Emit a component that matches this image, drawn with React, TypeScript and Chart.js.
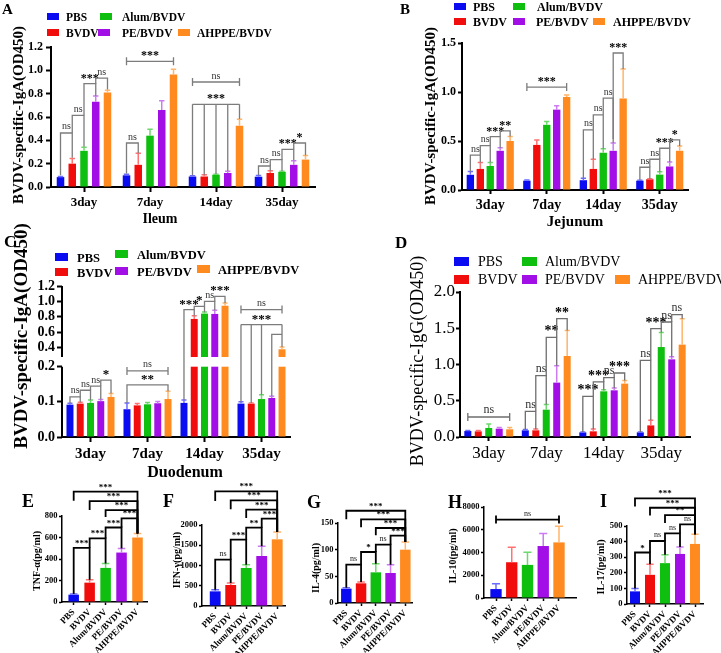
import React, { useEffect, useRef } from 'react';
import { Chart, registerables, LinearScale } from 'chart.js';

Chart.register(...registerables);

const SERIF = '"Liberation Serif", "Times New Roman", Times, serif';

// ---- groups, days, colours ----
const GROUPS = ['PBS', 'BVDV', 'Alum/BVDV', 'PE/BVDV', 'AHPPE/BVDV'];
const DAYS = ['3day', '7day', '14day', '35day'];
const COLORS = ['#0b0bf2', '#f20d0d', '#0fbf0f', '#a10ee6', '#ff8a1f'];
const ERR_COLORS = ['#6b6bff', '#ff7373', '#6ed86e', '#cc7cf2', '#ffb56b'];

// ---- Ileum IgA (rows = groups, columns = days) ----
const ILEUM = [
  [0.085, 0.10, 0.09, 0.088],
  [0.20, 0.19, 0.09, 0.12],
  [0.31, 0.44, 0.105, 0.13],
  [0.73, 0.66, 0.12, 0.19],
  [0.81, 0.965, 0.525, 0.235],
];
const ILEUM_ERR = [
  [0.006, 0.01, 0.006, 0.01],
  [0.045, 0.10, 0.015, 0.02],
  [0.03, 0.055, 0.004, 0.005],
  [0.05, 0.08, 0.015, 0.035],
  [0.02, 0.045, 0.055, 0.035],
];

// ---- Jejunum IgA ----
const JEJUNUM = [
  [0.155, 0.095, 0.10, 0.095],
  [0.215, 0.46, 0.215, 0.11],
  [0.245, 0.665, 0.38, 0.157],
  [0.40, 0.82, 0.40, 0.24],
  [0.50, 0.95, 0.934, 0.40],
];
const JEJUNUM_ERR = [
  [0.035, 0.008, 0.02, 0.005],
  [0.065, 0.05, 0.10, 0.005],
  [0.035, 0.035, 0.04, 0.03],
  [0.03, 0.04, 0.08, 0.045],
  [0.045, 0.02, 0.30, 0.05],
];

// ---- Duodenum IgA ----
const DUODENUM = [
  [0.092, 0.079, 0.097, 0.095],
  [0.095, 0.090, 0.773, 0.095],
  [0.097, 0.093, 0.842, 0.108],
  [0.102, 0.096, 0.838, 0.111],
  [0.114, 0.108, 0.945, 0.38],
];
const DUODENUM_ERR = [
  [0.004, 0.018, 0.008, 0.005],
  [0.004, 0.005, 0.043, 0.002],
  [0.008, 0.005, 0.021, 0.012],
  [0.005, 0.005, 0.047, 0.005],
  [0.01, 0.022, 0.035, 0.03],
];

// ---- serum IgG ----
const IGG = [
  [0.083, 0.092, 0.064, 0.064],
  [0.078, 0.092, 0.078, 0.16],
  [0.124, 0.377, 0.63, 1.241],
  [0.115, 0.75, 0.644, 1.071],
  [0.106, 1.117, 0.736, 1.274],
];
const IGG_ERR = [
  [0.005, 0.013, 0.005, 0.005],
  [0.012, 0.018, 0.032, 0.07],
  [0.056, 0.073, 0.023, 0.2],
  [0.015, 0.234, 0.032, 0.037],
  [0.024, 0.353, 0.044, 0.358],
];

// ---- cytokines (one value per group) ----
const TNF = [68, 180, 317, 460, 600];
const TNF_ERR = [7, 28, 41, 38, 38];
const IFN = [362, 518, 938, 1234, 1646];
const IFN_ERR = [41, 50, 82, 239, 181];
const IL4 = [26.9, 36.9, 57.5, 56.3, 100];
const IL4_ERR = [1.9, 2.5, 16.3, 15.6, 14.4];
const IL10 = [786, 3143, 2910, 4569, 4889];
const IL10_ERR = [465, 1309, 1106, 1106, 1426];
const IL17 = [81, 187, 262, 321, 385];
const IL17_ERR = [19, 68, 53, 45, 62];

// ---- tick values ----
const TICKS_ILEUM = [0, 0.2, 0.4, 0.6, 0.8, 1.0, 1.2];
const TICKS_JEJUNUM = [0, 0.5, 1.0, 1.5];
const TICKS_DUODENUM = [0, 0.1, 0.2, 0.4, 0.6, 0.8, 1.0, 1.2];
const TICKS_IGG = [0, 0.5, 1.0, 1.5, 2.0];
const TICKS_TNF = [0, 200, 400, 600, 800];
const TICKS_IFN = [0, 500, 1000, 1500, 2000];
const TICKS_IL4 = [0, 50, 100, 150];
const TICKS_IL10 = [0, 2000, 4000, 6000, 8000];
const TICKS_IL17 = [0, 100, 200, 300, 400, 500];

// ---- significance brackets: c = day, a/b = groups, y = level, ya/yb = leg ends ----
type Br = { c?: number; a: number; b: number; y: number; ya?: number | null; yb?: number | null; t: string; span?: boolean };
type Multi = { c: number; bars: number[]; y: number; lows: number[]; t: string };

const ILEUM_BR: Br[] = [
  { c: 0, a: 0, b: 1, y: 0.463, ya: 0.1, yb: 0.25, t: 'ns' },
  { c: 0, a: 1, b: 2, y: 0.614, ya: 0.463, yb: 0.345, t: 'ns' },
  { c: 0, a: 2, b: 3, y: 0.886, ya: 0.614, yb: 0.78, t: '***' },
  { c: 0, a: 3, b: 4, y: 0.934, ya: 0.886, yb: 0.835, t: 'ns' },
  { c: 1, a: 0, b: 1, y: 0.377, ya: 0.115, yb: 0.29, t: 'ns' },
  { c: 1, a: 0, b: 4, y: 1.077, t: '***', span: true },
  { c: 2, a: 0, b: 4, y: 0.9, t: 'ns', span: true },
  { c: 3, a: 0, b: 1, y: 0.18, ya: 0.1, yb: 0.14, t: 'ns' },
  { c: 3, a: 1, b: 2, y: 0.234, ya: 0.18, yb: 0.137, t: 'ns' },
  { c: 3, a: 2, b: 3, y: 0.323, ya: 0.234, yb: 0.228, t: '***' },
  { c: 3, a: 3, b: 4, y: 0.377, ya: 0.323, yb: 0.272, t: '*' },
];
const ILEUM_MULTI: Multi[] = [
  { c: 2, bars: [0, 1, 2, 3, 4], y: 0.709, lows: [0.1, 0.105, 0.112, 0.137, 0.582], t: '***' },
];

const JEJUNUM_BR: Br[] = [
  { c: 0, a: 0, b: 1, y: 0.355, ya: 0.19, yb: 0.28, t: 'ns' },
  { c: 0, a: 1, b: 2, y: 0.453, ya: 0.355, yb: 0.28, t: 'ns' },
  { c: 0, a: 2, b: 3, y: 0.545, ya: 0.453, yb: 0.43, t: '***' },
  { c: 0, a: 3, b: 4, y: 0.603, ya: 0.545, yb: 0.545, t: '**' },
  { c: 1, a: 0, b: 4, y: 1.05, t: '***', span: true },
  { c: 2, a: 0, b: 1, y: 0.614, ya: 0.12, yb: 0.315, t: 'ns' },
  { c: 2, a: 1, b: 2, y: 0.767, ya: 0.614, yb: 0.42, t: 'ns' },
  { c: 2, a: 2, b: 3, y: 0.938, ya: 0.767, yb: 0.48, t: 'ns' },
  { c: 2, a: 3, b: 4, y: 1.398, ya: 0.52, yb: 1.234, t: '***' },
  { c: 3, a: 0, b: 1, y: 0.232, ya: 0.1, yb: 0.115, t: 'ns' },
  { c: 3, a: 1, b: 2, y: 0.314, ya: 0.232, yb: 0.187, t: 'ns' },
  { c: 3, a: 2, b: 3, y: 0.426, ya: 0.314, yb: 0.285, t: '***' },
  { c: 3, a: 3, b: 4, y: 0.511, ya: 0.426, yb: 0.45, t: '*' },
];

const DUODENUM_BR: Br[] = [
  { c: 0, a: 0, b: 1, y: 0.114, ya: 0.096, yb: 0.099, t: 'ns' },
  { c: 0, a: 1, b: 2, y: 0.133, ya: 0.114, yb: 0.105, t: 'ns' },
  { c: 0, a: 2, b: 3, y: 0.145, ya: 0.133, yb: 0.107, t: 'ns' },
  { c: 0, a: 3, b: 4, y: 0.162, ya: 0.145, yb: 0.124, t: '*' },
  { c: 1, a: 0, b: 4, y: 0.188, t: 'ns', span: true },
  { c: 1, a: 0, b: 4, y: 0.148, ya: 0.097, yb: 0.13, t: '**' },
  { c: 2, a: 0, b: 1, y: 0.894, ya: 0.105, yb: 0.816, t: '***' },
  { c: 2, a: 1, b: 2, y: 0.936, ya: 0.894, yb: 0.863, t: '*' },
  { c: 2, a: 2, b: 3, y: 1.0, ya: 0.936, yb: 0.885, t: 'ns' },
  { c: 2, a: 3, b: 4, y: 1.065, ya: 1.0, yb: 0.98, t: '***' },
  { c: 3, a: 0, b: 4, y: 0.894, t: 'ns', span: true },
  { c: 3, a: 3, b: 4, y: 0.572, ya: 0.116, yb: null, t: '' },
];
const DUODENUM_MULTI: Multi[] = [
  { c: 3, bars: [0, 1, 2, 4], y: 0.70, lows: [0.1, 0.097, 0.12, 0.41], t: '***' },
];

const IGG_BR: Br[] = [
  { c: 0, a: 0, b: 4, y: 0.276, t: 'ns', span: true },
  { c: 1, a: 0, b: 1, y: 0.354, ya: 0.105, yb: 0.11, t: 'ns' },
  { c: 1, a: 1, b: 2, y: 0.846, ya: 0.354, yb: 0.45, t: 'ns' },
  { c: 1, a: 2, b: 3, y: 1.375, ya: 0.846, yb: 0.984, t: '**' },
  { c: 1, a: 3, b: 4, y: 1.632, ya: 1.375, yb: 1.47, t: '**' },
  { c: 2, a: 0, b: 1, y: 0.561, ya: 0.07, yb: 0.11, t: '***' },
  { c: 2, a: 1, b: 2, y: 0.759, ya: 0.561, yb: 0.653, t: '***' },
  { c: 2, a: 2, b: 3, y: 0.818, ya: 0.759, yb: 0.676, t: 'ns' },
  { c: 2, a: 3, b: 4, y: 0.883, ya: 0.818, yb: 0.78, t: '***' },
  { c: 3, a: 0, b: 1, y: 1.057, ya: 0.07, yb: 0.23, t: 'ns' },
  { c: 3, a: 1, b: 2, y: 1.494, ya: 1.057, yb: 1.44, t: '***' },
  { c: 3, a: 2, b: 3, y: 1.586, ya: 1.494, yb: 1.108, t: 'ns' },
  { c: 3, a: 3, b: 4, y: 1.687, ya: 1.586, yb: 1.632, t: 'ns' },
];

const TNF_BR: Br[] = [
  { a: 0, b: 1, y: 504, ya: 75, yb: 208, t: '***' },
  { a: 1, b: 2, y: 591, ya: 504, yb: 358, t: '***' },
  { a: 2, b: 3, y: 693, ya: 591, yb: 498, t: '***' },
  { a: 3, b: 4, y: 777, ya: 693, yb: 638, t: '***' },
  { a: 2, b: 4, y: 855, ya: 790, yb: 638, t: '***' },
  { a: 1, b: 4, y: 939, ya: 855, yb: 638, t: '***' },
  { a: 0, b: 4, y: 1026, ya: 942, yb: 638, t: '***' },
];
const IFN_BR: Br[] = [
  { a: 0, b: 1, y: 1144, ya: 403, yb: 568, t: 'ns' },
  { a: 1, b: 2, y: 1638, ya: 1144, yb: 1020, t: '***' },
  { a: 2, b: 3, y: 1934, ya: 1638, yb: 1473, t: '**' },
  { a: 3, b: 4, y: 2156, ya: 1934, yb: 1827, t: '***' },
  { a: 2, b: 4, y: 2378, ya: 2170, yb: 1827, t: '***' },
  { a: 1, b: 4, y: 2609, ya: 2390, yb: 1827, t: '***' },
  { a: 0, b: 4, y: 2831, ya: 2590, yb: 1827, t: '***' },
];
const IL4_BR: Br[] = [
  { a: 0, b: 1, y: 71.9, ya: 28.8, yb: 39.4, t: 'ns' },
  { a: 1, b: 2, y: 95.6, ya: 71.9, yb: 73.8, t: '*' },
  { a: 2, b: 3, y: 109.4, ya: 95.6, yb: 71.9, t: 'ns' },
  { a: 3, b: 4, y: 126.3, ya: 109.4, yb: 114.4, t: '***' },
  { a: 2, b: 4, y: 140.6, ya: 127, yb: 114.4, t: '***' },
  { a: 1, b: 4, y: 156.9, ya: 142, yb: 114.4, t: '***' },
  { a: 0, b: 4, y: 173, ya: 157, yb: 114.4, t: '***' },
];
const IL10_BR: Br[] = [
  { a: 0, b: 4, y: 6897, t: 'ns', span: true },
];
const IL17_BR: Br[] = [
  { a: 0, b: 1, y: 330, ya: 100, yb: 255, t: '*' },
  { a: 1, b: 2, y: 404, ya: 330, yb: 315, t: 'ns' },
  { a: 2, b: 3, y: 453, ya: 404, yb: 366, t: 'ns' },
  { a: 3, b: 4, y: 511, ya: 453, yb: 447, t: 'ns' },
  { a: 2, b: 4, y: 570, ya: 520, yb: 447, t: '**' },
  { a: 1, b: 4, y: 617, ya: 567, yb: 447, t: '***' },
  { a: 0, b: 4, y: 677, ya: 625, yb: 447, t: '***' },
];

// ---- broken value axis for the duodenum panel ----
const BREAK_LO = 0.2;
const BREAK_HI = 0.28;
const BREAK_F_LO = 0.4656; // share of axis height below the break
const BREAK_F_HI = 0.5298; // share of axis height where the upper part starts

class BrokenLinearScale extends LinearScale {
  static id = 'brokenLinear';
  static defaults = LinearScale.defaults;
  getPixelForValue(value: any) {
    if (value === null || value === undefined || isNaN(value)) return NaN;
    const min = this.min;
    const max = this.max;
    let f: number;
    if (value <= BREAK_LO) f = ((value - min) / (BREAK_LO - min)) * BREAK_F_LO;
    else if (value <= BREAK_HI) f = BREAK_F_LO + ((value - BREAK_LO) / (BREAK_HI - BREAK_LO)) * (BREAK_F_HI - BREAK_F_LO);
    else f = BREAK_F_HI + ((value - BREAK_HI) / (max - BREAK_HI)) * (1 - BREAK_F_HI);
    return this.bottom - f * (this.bottom - this.top);
  }
  getValueForPixel(pixel: number) {
    const f = (this.bottom - pixel) / (this.bottom - this.top);
    if (f <= BREAK_F_LO) return this.min + (f / BREAK_F_LO) * (BREAK_LO - this.min);
    if (f <= BREAK_F_HI) return BREAK_LO + ((f - BREAK_F_LO) / (BREAK_F_HI - BREAK_F_LO)) * (BREAK_HI - BREAK_LO);
    return BREAK_HI + ((f - BREAK_F_HI) / (1 - BREAK_F_HI)) * (this.max - BREAK_HI);
  }
}
Chart.register(BrokenLinearScale as any);

// ---- panel layout ----
type Legend = { size: number; bold: boolean; rw: number; rh: number; items: number[][] };
type Panel = {
  key: string;
  box: number[];
  area: number[];
  grouped?: number[][];
  groupedErr?: number[][];
  single?: number[];
  singleErr?: number[];
  xMin?: number;
  xMax?: number;
  broken?: boolean;
  yMax: number;
  yTicks: number[];
  dec: number;
  catPct: number;
  barPct: number;
  axisW: number;
  tickLen: number;
  yFont: [number, boolean];
  yPad: number;
  xFont: [number, boolean];
  xPad: number;
  letter: [string, number, number, number];
  legend?: Legend;
  yTitle: [string, number, number, number, boolean];
  xTitle?: [string, number, number, number];
  brackets: Br[];
  multi?: Multi[];
  br: { color: string; width: number; ast: number; ns: number; tick: number; nsColor: string };
};

const TOP_BR = { color: '#7c7c7c', width: 1.3, ast: 12, ns: 10, tick: 4, nsColor: '#333' };
const BOTTOM_BR = { color: '#000', width: 1.8, ast: 9, ns: 8, tick: 4, nsColor: '#222' };

const PANELS: Panel[] = [
  {
    key: 'A', box: [0, 0, 360, 232], area: [51, 47, 315, 187],
    grouped: ILEUM, groupedErr: ILEUM_ERR, yMax: 1.2, yTicks: TICKS_ILEUM, dec: 1,
    catPct: 0.89, barPct: 0.64, axisW: 2, tickLen: 5,
    yFont: [12, true], yPad: 3, xFont: [13, true], xPad: 3,
    letter: ['A', 2, 13.5, 15],
    legend: { size: 11.5, bold: true, rw: 12, rh: 7, items: [
      [0, 47, 13, 66, 20.5], [2, 100, 13, 122, 20.5],
      [1, 47, 29, 66, 36.5], [3, 98, 29, 122, 36.5], [4, 178, 29, 197, 36.5],
    ] },
    yTitle: ['BVDV-specific-IgA(OD450)', 19, 115, 15, true],
    xTitle: ['Ileum', 160, 223, 14],
    brackets: ILEUM_BR, multi: ILEUM_MULTI, br: TOP_BR,
  },
  {
    key: 'B', box: [360, 0, 361, 235], area: [462, 43, 688, 190],
    grouped: JEJUNUM, groupedErr: JEJUNUM_ERR, yMax: 1.5, yTicks: TICKS_JEJUNUM, dec: 1,
    catPct: 0.88, barPct: 0.74, axisW: 2, tickLen: 4,
    yFont: [12, true], yPad: 2, xFont: [14, true], xPad: 3,
    letter: ['B', 400, 13.5, 15],
    legend: { size: 12, bold: true, rw: 12, rh: 7, items: [
      [0, 454, 3, 473, 10.5], [2, 513, 3, 537, 10.5],
      [1, 454, 18, 473, 25.5], [3, 513, 18, 536, 25.5], [4, 593, 18, 613, 25.5],
    ] },
    yTitle: ['BVDV-specific-IgA(OD450)', 431, 116, 15, true],
    xTitle: ['Jejunum', 575, 226, 15],
    brackets: JEJUNUM_BR, br: TOP_BR,
  },
  {
    key: 'C', box: [0, 210, 360, 270], area: [62, 286, 290, 437],
    grouped: DUODENUM, groupedErr: DUODENUM_ERR, broken: true, yMax: 1.2, yTicks: TICKS_DUODENUM, dec: 1,
    catPct: 0.9, barPct: 0.68, axisW: 2, tickLen: 5,
    yFont: [14, true], yPad: 2, xFont: [15, true], xPad: 3,
    letter: ['C', 4, 247, 17],
    legend: { size: 12.5, bold: true, rw: 13, rh: 8, items: [
      [0, 55, 253, 77, 262], [2, 115, 250, 137, 258.5],
      [1, 55, 268, 77, 277], [3, 115, 267, 137, 275.5], [4, 197, 265, 218, 273.5],
    ] },
    yTitle: ['BVDV-specific-IgA(OD450)', 22.5, 336, 19, true],
    xTitle: ['Duodenum', 185, 477, 16],
    brackets: DUODENUM_BR, multi: DUODENUM_MULTI, br: { ...TOP_BR, ast: 13 },
  },
  {
    key: 'D', box: [360, 235, 361, 245], area: [460, 292, 690, 437],
    grouped: IGG, groupedErr: IGG_ERR, yMax: 2.0, yTicks: TICKS_IGG, dec: 1,
    catPct: 0.91, barPct: 0.67, axisW: 2, tickLen: 4,
    yFont: [17, false], yPad: 1, xFont: [17, false], xPad: 2,
    letter: ['D', 395, 248, 17],
    legend: { size: 14, bold: false, rw: 15, rh: 9, items: [
      [0, 454, 257, 478, 266], [2, 522, 257, 545, 266],
      [1, 454, 275, 478, 284], [3, 522, 275, 545, 284], [4, 615, 275, 638, 284],
    ] },
    yTitle: ['BVDV-specific-IgG(OD450)', 418, 361, 18, false],
    brackets: IGG_BR, br: { ...TOP_BR, color: '#6e6e6e', ast: 14, ns: 12 },
  },
  {
    key: 'E', box: [0, 480, 160, 173], area: [62, 516, 147, 602],
    single: TNF, singleErr: TNF_ERR, xMin: -0.733, xMax: 4.596, yMax: 800, yTicks: TICKS_TNF, dec: 0,
    catPct: 1, barPct: 0.66, axisW: 1.5, tickLen: 3,
    yFont: [8.5, true], yPad: 1.5, xFont: [9, true], xPad: 2,
    letter: ['E', 22, 507, 18],
    yTitle: ['TNF-α(pg/ml)', 37.5, 561, 10, true],
    brackets: TNF_BR, br: BOTTOM_BR,
  },
  {
    key: 'F', box: [160, 480, 140, 173], area: [202, 525, 285, 606],
    single: IFN, singleErr: IFN_ERR, xMin: -0.852, xMax: 4.503, yMax: 2000, yTicks: TICKS_IFN, dec: 0,
    catPct: 1, barPct: 0.7, axisW: 1.5, tickLen: 3,
    yFont: [8.5, true], yPad: 1.5, xFont: [9, true], xPad: 2,
    letter: ['F', 163, 507, 18],
    yTitle: ['IFN-γ(pg/ml)', 177, 560, 10, true],
    brackets: IFN_BR, br: BOTTOM_BR,
  },
  {
    key: 'G', box: [300, 480, 145, 173], area: [338, 523, 412, 603],
    single: IL4, singleErr: IL4_ERR, xMin: -0.563, xMax: 4.454, yMax: 150, yTicks: TICKS_IL4, dec: 0,
    catPct: 1, barPct: 0.71, axisW: 1.5, tickLen: 3,
    yFont: [8.5, true], yPad: 1.5, xFont: [9, true], xPad: 2,
    letter: ['G', 307, 508, 18],
    yTitle: ['IL-4(pg/ml)', 316.5, 568, 10, true],
    brackets: IL4_BR, br: BOTTOM_BR,
  },
  {
    key: 'H', box: [445, 480, 140, 173], area: [484, 507, 576, 598],
    single: IL10, singleErr: IL10_ERR, xMin: -0.762, xMax: 5.08, yMax: 8000, yTicks: TICKS_IL10, dec: 0,
    catPct: 1, barPct: 0.72, axisW: 1.5, tickLen: 3,
    yFont: [8.5, true], yPad: 1.5, xFont: [9, true], xPad: 2,
    letter: ['H', 448, 508, 18],
    yTitle: ['IL-10(pg/ml)', 453.5, 556, 10, true],
    brackets: IL10_BR, br: BOTTOM_BR,
  },
  {
    key: 'I', box: [585, 480, 136, 173], area: [627, 526, 703, 604],
    single: IL17, singleErr: IL17_ERR, xMin: -0.533, xMax: 4.533, yMax: 500, yTicks: TICKS_IL17, dec: 0,
    catPct: 1, barPct: 0.67, axisW: 1.5, tickLen: 3,
    yFont: [8.5, true], yPad: 1.5, xFont: [9, true], xPad: 2,
    letter: ['I', 600, 507, 18],
    yTitle: ['IL-17(pg/ml)', 601.5, 567, 10, true],
    brackets: IL17_BR, br: BOTTOM_BR,
  },
];

// ---- drawing helpers ----
const font = (size: number, bold: boolean) => `${bold ? 'bold ' : ''}${size}px ${SERIF}`;

function put(ctx: CanvasRenderingContext2D, s: string, x: number, y: number, f: string,
  align: CanvasTextAlign = 'left', color = '#000', rot = 0, base: CanvasTextBaseline = 'alphabetic') {
  ctx.save();
  ctx.font = f;
  ctx.fillStyle = color;
  ctx.textAlign = align;
  ctx.textBaseline = base;
  ctx.translate(x, y);
  if (rot) ctx.rotate(rot);
  ctx.fillText(s, 0, 0);
  ctx.restore();
}

function barX(chart: any, p: Panel, c: number, a: number): number {
  return p.grouped ? chart.getDatasetMeta(a).data[c].x : chart.getDatasetMeta(0).data[a].x;
}

function overlay(p: Panel) {
  const [bx, by] = p.box;
  return {
    id: 'overlay' + p.key,
    afterDatasetsDraw(chart: any) {
      const ctx: CanvasRenderingContext2D = chart.ctx;
      const ys = chart.scales.y;
      const area = chart.chartArea;
      if (p.broken) {
        const y1 = ys.getPixelForValue(BREAK_HI);
        const y2 = ys.getPixelForValue(BREAK_LO);
        ctx.fillStyle = '#fff';
        ctx.fillRect(area.left + 1, y1, area.right - area.left, y2 - y1);
      }
      // upward error bars
      ctx.save();
      ctx.lineWidth = 1.5;
      chart.data.datasets.forEach((_: any, i: number) => {
        const meta = chart.getDatasetMeta(i);
        meta.data.forEach((el: any, j: number) => {
          const v = p.grouped ? p.grouped[i][j] : p.single![j];
          const e = p.grouped ? p.groupedErr![i][j] : p.singleErr![j];
          const col = p.grouped ? ERR_COLORS[i] : ERR_COLORS[j];
          const yTop = ys.getPixelForValue(v);
          const yE = ys.getPixelForValue(v + e);
          const half = el.width * 0.36;
          ctx.strokeStyle = col;
          ctx.beginPath();
          ctx.moveTo(el.x, yTop);
          ctx.lineTo(el.x, yE);
          ctx.moveTo(el.x - half, yE);
          ctx.lineTo(el.x + half, yE);
          ctx.stroke();
        });
      });
      ctx.restore();
    },
    afterDraw(chart: any) {
      const ctx: CanvasRenderingContext2D = chart.ctx;
      const ys = chart.scales.y;
      const area = chart.chartArea;
      const py = (v: number) => ys.getPixelForValue(v);

      // split value axis
      if (p.broken) {
        ctx.save();
        ctx.strokeStyle = '#000';
        ctx.lineWidth = p.axisW;
        ctx.beginPath();
        ctx.moveTo(area.left, area.bottom + 1);
        ctx.lineTo(area.left, py(BREAK_LO));
        ctx.moveTo(area.left, py(BREAK_HI));
        ctx.lineTo(area.left, area.top);
        ctx.stroke();
        ctx.restore();
      }

      // significance brackets
      const lab = (t: string, x: number, y: number) => {
        if (!t) return;
        if (t.includes('*')) put(ctx, t, x, y - 2, font(p.br.ast, true), 'center', '#000');
        else put(ctx, t, x, y - 3.5, font(p.br.ns, false), 'center', p.br.nsColor);
      };
      ctx.save();
      ctx.strokeStyle = p.br.color;
      ctx.lineWidth = p.br.width;
      for (const b of p.brackets) {
        const c = b.c ?? 0;
        const xa = barX(chart, p, c, b.a);
        const xb = barX(chart, p, c, b.b);
        const yy = py(b.y);
        ctx.beginPath();
        if (b.span) {
          const tk = p.br.tick;
          ctx.moveTo(xa, yy - tk); ctx.lineTo(xa, yy + tk);
          ctx.moveTo(xa, yy); ctx.lineTo(xb, yy);
          ctx.moveTo(xb, yy - tk); ctx.lineTo(xb, yy + tk);
        } else {
          if (b.ya != null) { ctx.moveTo(xa, py(b.ya)); ctx.lineTo(xa, yy); } else ctx.moveTo(xa, yy);
          ctx.lineTo(xb, yy);
          if (b.yb != null) ctx.lineTo(xb, py(b.yb));
        }
        ctx.stroke();
        lab(b.t, (xa + xb) / 2, yy);
      }
      for (const m of p.multi ?? []) {
        const xs = m.bars.map((a) => barX(chart, p, m.c, a));
        const yy = py(m.y);
        ctx.beginPath();
        ctx.moveTo(Math.min(...xs), yy);
        ctx.lineTo(Math.max(...xs), yy);
        xs.forEach((x, k) => { ctx.moveTo(x, yy); ctx.lineTo(x, py(m.lows[k])); });
        ctx.stroke();
        lab(m.t, (Math.min(...xs) + Math.max(...xs)) / 2, yy);
      }
      ctx.restore();

      // legend
      if (p.legend) {
        const L = p.legend;
        for (const [g, rx, ry, tx, ty] of L.items) {
          ctx.fillStyle = COLORS[g];
          ctx.fillRect(rx - bx, ry - by, L.rw, L.rh);
          put(ctx, GROUPS[g], tx - bx, ty - by, font(L.size, L.bold));
        }
      }

      // panel letter and titles
      const [lt, lx, ly, ls] = p.letter;
      put(ctx, lt, lx - bx, ly - by, font(ls, true));
      const [yt, yx, yyc, ysz, yb] = p.yTitle;
      put(ctx, yt, yx - bx, yyc - by, font(ysz, yb), 'center', '#000', -Math.PI / 2, 'middle');
      if (p.xTitle) {
        const [xt, xx, xy, xs] = p.xTitle;
        put(ctx, xt, xx - bx, xy - by, font(xs, true), 'center');
      }
    },
  };
}

function buildConfig(p: Panel): any {
  const [bx, by, bw, bh] = p.box;
  const [l, t, r, b] = p.area;
  const grid = {
    display: true, drawOnChartArea: false, drawTicks: true, tickLength: p.tickLen,
    offset: false, tickColor: '#000', tickWidth: p.axisW, color: '#000',
  };
  const border = { display: true, color: '#000', width: p.axisW };
  const xFont = { family: SERIF, size: p.xFont[0], weight: p.xFont[1] ? 'bold' : 'normal' };
  const yFont = { family: SERIF, size: p.yFont[0], weight: p.yFont[1] ? 'bold' : 'normal' };
  const fitX = (s: any) => {
    s.height = by + bh - b;
    s.paddingLeft = 0; s.paddingRight = 0; s.paddingTop = 0; s.paddingBottom = 0;
  };

  const datasets = p.grouped
    ? GROUPS.map((g, i) => ({
        label: g, data: p.grouped![i], backgroundColor: COLORS[i], borderWidth: 0,
        categoryPercentage: p.catPct, barPercentage: p.barPct,
      }))
    : [{
        label: p.yTitle[0], data: p.single!.map((v, i) => ({ x: i, y: v })), backgroundColor: COLORS,
        borderWidth: 0, categoryPercentage: p.catPct, barPercentage: p.barPct,
      }];

  const x = p.grouped
    ? {
        type: 'category', labels: DAYS, offset: true, grid, border,
        ticks: { font: xFont, color: '#000', padding: p.xPad, maxRotation: 0, minRotation: 0, autoSkip: false },
        afterFit: fitX,
      }
    : {
        type: 'linear', min: p.xMin, max: p.xMax, offset: false, grid, border,
        afterBuildTicks: (s: any) => { s.ticks = GROUPS.map((_, i) => ({ value: i })); },
        ticks: {
          font: xFont, color: '#000', padding: p.xPad, minRotation: 45, maxRotation: 45, autoSkip: false,
          callback: (v: any) => GROUPS[v] ?? '',
        },
        afterFit: fitX,
      };

  return {
    type: 'bar',
    data: p.grouped ? { labels: DAYS, datasets } : { datasets },
    options: {
      responsive: false, maintainAspectRatio: false, animation: false, devicePixelRatio: 1, events: [],
      layout: { padding: { left: 0, top: t - by, right: bx + bw - r, bottom: 0 } },
      plugins: { legend: { display: false }, tooltip: { enabled: false }, title: { display: false } },
      scales: {
        x,
        y: {
          type: p.broken ? 'brokenLinear' : 'linear', min: 0, max: p.yMax,
          grid, border: { ...border, display: !p.broken },
          afterBuildTicks: (s: any) => { s.ticks = p.yTicks.map((v) => ({ value: v })); },
          ticks: { font: yFont, color: '#000', padding: p.yPad, callback: (v: any) => Number(v).toFixed(p.dec) },
          afterFit: (s: any) => { s.width = l - bx; s.paddingTop = 0; s.paddingBottom = 0; },
        },
      },
    },
    plugins: [overlay(p)],
  };
}

function PanelChart({ p }: { p: Panel }) {
  const ref = useRef<HTMLCanvasElement>(null);
  useEffect(() => {
    const chart = new Chart(ref.current as HTMLCanvasElement, buildConfig(p));
    return () => chart.destroy();
  }, [p]);
  const [x, y, w, h] = p.box;
  return (
    <canvas
      ref={ref}
      width={w}
      height={h}
      style={{ position: 'absolute', left: x, top: y, width: w, height: h }}
    />
  );
}

export default function App() {
  return (
    <div style={{ position: 'absolute', left: 0, top: 0, width: 721, height: 653, background: '#fff', overflow: 'hidden' }}>
      {PANELS.map((p) => <PanelChart key={p.key} p={p} />)}
    </div>
  );
}
